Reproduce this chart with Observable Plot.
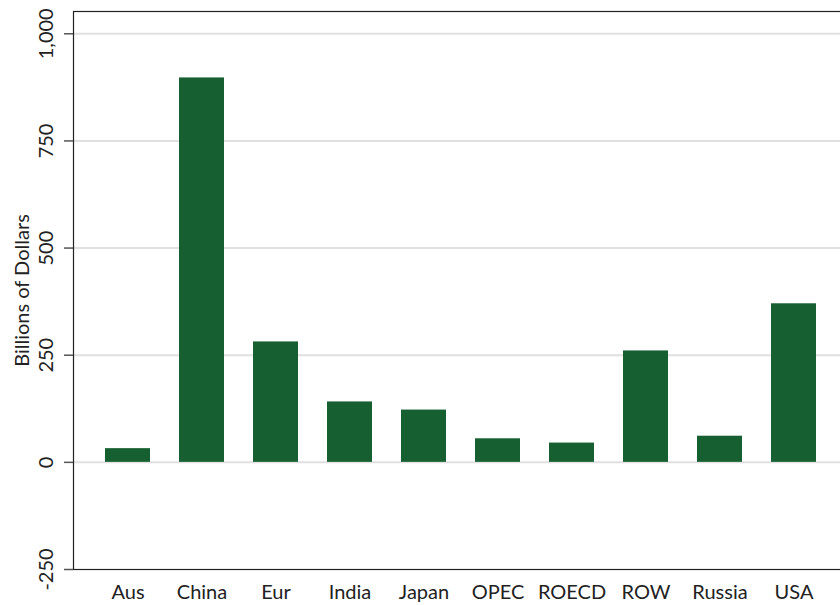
<!DOCTYPE html>
<html>
<head>
<meta charset="utf-8">
<script src="https://cdn.jsdelivr.net/npm/d3@7"></script>
<script src="https://cdn.jsdelivr.net/npm/@observablehq/plot@0.6"></script>
<style>
  html, body { margin: 0; padding: 0; background: #fff; overflow: hidden; }
  svg { display: block; }
</style>
</head>
<body>
<div id="chart"></div>
<script>
const regions = ["Aus", "China", "Eur", "India", "Japan", "OPEC", "ROECD", "ROW", "Russia", "USA"];
const values = [32, 897, 281, 141, 122, 55, 45, 260, 61, 370];
const yTicks = [-250, 0, 250, 500, 750, 1000];
const gridTicks = [0, 250, 500, 750, 1000];
const yLabel = "Billions of Dollars";

const data = regions.map((r, i) => ({region: r, value: values[i]}));
const fmt = d => d3.format(",")(d).replace("\u2212", "-");

const chart = Plot.plot({
  width: 840,
  height: 605,
  marginLeft: 73,
  marginTop: 11,
  marginBottom: 36,
  marginRight: -8,
  style: {fontFamily: "Lato, sans-serif", background: "#fff"},
  x: {type: "band", domain: regions, paddingInner: 0.39, paddingOuter: 0.43},
  y: {domain: [-250, 1052]},
  marks: [
    Plot.ruleY(gridTicks, {stroke: "#e0e0e0", strokeWidth: 2}),
    Plot.barY(data, {x: "region", y: "value", fill: "#165f31"}),
    Plot.frame({stroke: "#222", strokeWidth: 1.2}),
    Plot.axisY({ticks: yTicks, tickSize: 9, tickFormat: () => "", stroke: "#555", strokeWidth: 1.5, label: null}),
    Plot.text(yTicks, {y: d => d, text: d => fmt(d), frameAnchor: "left", dx: -27, rotate: -90, textAnchor: "middle", lineAnchor: "middle", fontSize: 20, fill: "#222"}),
    Plot.axisX({tickSize: 0, tickPadding: 15, fontSize: 20, label: null, fill: "#222"}),
    Plot.text([yLabel], {text: d => d, frameAnchor: "left", dx: -51, rotate: -90, textAnchor: "middle", lineAnchor: "middle", fontSize: 20, fill: "#222"})
  ]
});
document.getElementById("chart").appendChild(chart);
</script>
</body>
</html>
